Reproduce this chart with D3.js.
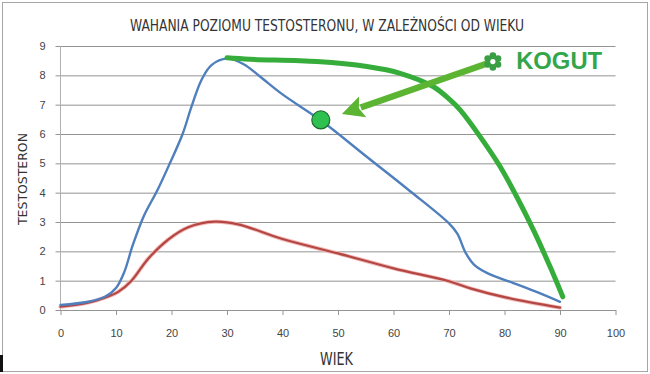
<!DOCTYPE html>
<html>
<head>
<meta charset="utf-8">
<style>
  body { margin: 0; background: #fff; }
  svg { display: block; }
  .tick text { font-family: "Liberation Sans", Arial, sans-serif; font-size: 11px; fill: #444; }
  .narrow { font-family: "Liberation Sans Narrow", "DejaVu Sans Condensed", "Liberation Sans", sans-serif; fill: #333; }
</style>
</head>
<body>
<svg width="650" height="374"></svg>
<script src="https://d3js.org/d3.v7.min.js"></script>
<script>
// ages and testosterone levels
const blueAge = [0, 5, 8, 10, 11.5, 13, 15, 17.5, 19.7, 22, 23.6, 25.4, 27.2, 30, 33, 36, 40, 47, 55, 63, 70, 71.5, 73, 74.5, 77, 81.6, 86, 90];
const blueVal = [0.17, 0.28, 0.45, 0.75, 1.3, 2.2, 3.2, 4.1, 5.0, 6.0, 6.93, 7.84, 8.35, 8.57, 8.38, 7.95, 7.35, 6.45, 5.25, 4.05, 2.95, 2.6, 1.95, 1.55, 1.25, 0.92, 0.6, 0.28];

const redAge = [0, 5, 8, 10.4, 12.8, 15.8, 19.4, 23, 27.8, 32, 40, 50, 60, 70, 74, 80.4, 90];
const redVal = [0.11, 0.25, 0.42, 0.62, 1.0, 1.75, 2.4, 2.82, 3.01, 2.92, 2.42, 1.93, 1.42, 0.98, 0.73, 0.42, 0.08];

const greenAge = [30, 34.1, 46.2, 55.2, 61.2, 67.2, 70.2, 72, 75.6, 79.2, 82.2, 85.2, 88.2, 90.5];
const greenVal = [8.6, 8.55, 8.47, 8.3, 8.07, 7.61, 7.16, 6.82, 5.91, 4.89, 3.86, 2.73, 1.48, 0.45];

const xTicks = [0, 10, 20, 30, 40, 50, 60, 70, 80, 90, 100];
const yTicks = [0, 1, 2, 3, 4, 5, 6, 7, 8, 9];

// annotation: dot on blue line, arrow from the label star to the dot
const dotPoint = [46.9, 6.48];
const arrowFrom = [77.9, 8.47];
const arrowTo = [50.7, 6.68];
const labelPos = [82.1, 8.22];
const labelText = "KOGUT";

const titleText = "WAHANIA POZIOMU TESTOSTERONU, W ZALEŻNOŚCI OD WIEKU";

const svg = d3.select("svg");
const margin = { left: 60.5, top: 46, right: 34.5, bottom: 64 };
const width = 650, height = 374;

const x = d3.scaleLinear().domain([0, 100]).range([margin.left, width - margin.right]);
const y = d3.scaleLinear().domain([0, 9]).range([height - margin.bottom, margin.top]);

// outer frame
svg.append("rect")
  .attr("x", 2.5).attr("y", 2.5).attr("width", 645).attr("height", 369)
  .attr("fill", "#fff").attr("stroke", "#a6a6a6");
svg.append("rect")
  .attr("x", 0).attr("y", 355).attr("width", 3).attr("height", 17)
  .attr("fill", "#111");

// gridlines + y labels
const yAxis = svg.append("g")
  .attr("transform", `translate(${margin.left},0)`)
  .call(d3.axisLeft(y).tickValues(yTicks).tickSize(-(width - margin.left - margin.right)).tickPadding(15).tickSizeOuter(0));
yAxis.select(".domain").remove();
yAxis.selectAll(".tick line").attr("stroke", "#949494").attr("x1", -5);

// left axis line
svg.append("line")
  .attr("x1", margin.left).attr("x2", margin.left)
  .attr("y1", y(9)).attr("y2", y(0))
  .attr("stroke", "#b0b0b0");

// bottom axis
const xAxis = svg.append("g")
  .attr("transform", `translate(0,${y(0)})`)
  .call(d3.axisBottom(x).tickValues(xTicks).tickSize(5).tickPadding(14).tickSizeOuter(0));
xAxis.select(".domain").attr("stroke", "#949494");
xAxis.selectAll(".tick line").attr("stroke", "#949494");

// titles
svg.append("text").attr("class", "narrow")
  .attr("x", 130).attr("y", 31)
  .attr("font-size", 16)
  .attr("textLength", 394).attr("lengthAdjust", "spacingAndGlyphs")
  .text(titleText);

svg.append("text").attr("class", "narrow")
  .attr("x", 320).attr("y", 364.5)
  .attr("font-size", 17)
  .attr("textLength", 33).attr("lengthAdjust", "spacingAndGlyphs")
  .text("WIEK");

svg.append("text").attr("class", "narrow")
  .attr("transform", "translate(27,225) rotate(-90)")
  .attr("font-size", 13)
  .attr("textLength", 92).attr("lengthAdjust", "spacingAndGlyphs")
  .text("TESTOSTERON");

// lines
function drawLine(ages, vals, color, w) {
  const line = d3.line()
    .x((d, i) => x(ages[i]))
    .y(d => y(d))
    .curve(d3.curveCatmullRom.alpha(0.5));
  svg.append("path")
    .attr("d", line(vals))
    .attr("fill", "none")
    .attr("stroke", color)
    .attr("stroke-width", w)
    .attr("stroke-linecap", "round")
    .attr("stroke-linejoin", "round");
}

drawLine(redAge, redVal, "#f3b8b6", 4);
drawLine(redAge, redVal, "#b24744", 2.2);
drawLine(blueAge, blueVal, "#4f7fbc", 2.4);
drawLine(greenAge, greenVal, "#36ad3a", 5);

// arrow
const ax1 = x(arrowFrom[0]), ay1 = y(arrowFrom[1]);
const ax2 = x(arrowTo[0]), ay2 = y(arrowTo[1]);
const ang = Math.atan2(ay2 - ay1, ax2 - ax1);
const headLen = 22, headHalf = 11;
const bx = ax2 - headLen * Math.cos(ang), by = ay2 - headLen * Math.sin(ang);
svg.append("line")
  .attr("x1", ax1).attr("y1", ay1).attr("x2", bx + 2 * Math.cos(ang)).attr("y2", by + 2 * Math.sin(ang))
  .attr("stroke", "#5cb532").attr("stroke-width", 6.5);
svg.append("path")
  .attr("d", d3.line()([
    [ax2, ay2],
    [bx - headHalf * Math.sin(ang), by + headHalf * Math.cos(ang)],
    [bx + 4 * Math.cos(ang), by + 4 * Math.sin(ang)],
    [bx + headHalf * Math.sin(ang), by - headHalf * Math.cos(ang)]
  ]) + "Z")
  .attr("fill", "#5cb532");

// star / gear marker at the arrow start
const star = svg.append("g").attr("transform", `translate(${ax1},${ay1})`);
d3.range(6).forEach(i => {
  const a = i * Math.PI / 3 - Math.PI / 2;
  star.append("circle")
    .attr("cx", 6 * Math.cos(a)).attr("cy", 6 * Math.sin(a))
    .attr("r", 3.3).attr("fill", "#3a9e45");
});
star.append("circle").attr("r", 6.5).attr("fill", "#3a9e45");
star.append("circle").attr("r", 2.6).attr("fill", "#fff");

// dot on the blue line
svg.append("circle")
  .attr("cx", x(dotPoint[0])).attr("cy", y(dotPoint[1]))
  .attr("r", 9)
  .attr("fill", "#2fc14f")
  .attr("stroke", "#1e6e2c")
  .attr("stroke-width", 1.2);

// label
svg.append("text")
  .attr("x", x(labelPos[0])).attr("y", y(labelPos[1]))
  .attr("font-family", "'Liberation Sans', Arial, sans-serif")
  .attr("font-weight", "bold")
  .attr("font-size", 23)
  .attr("textLength", 86).attr("lengthAdjust", "spacingAndGlyphs")
  .attr("fill", "#33a64c")
  .text(labelText);
</script>
</body>
</html>
